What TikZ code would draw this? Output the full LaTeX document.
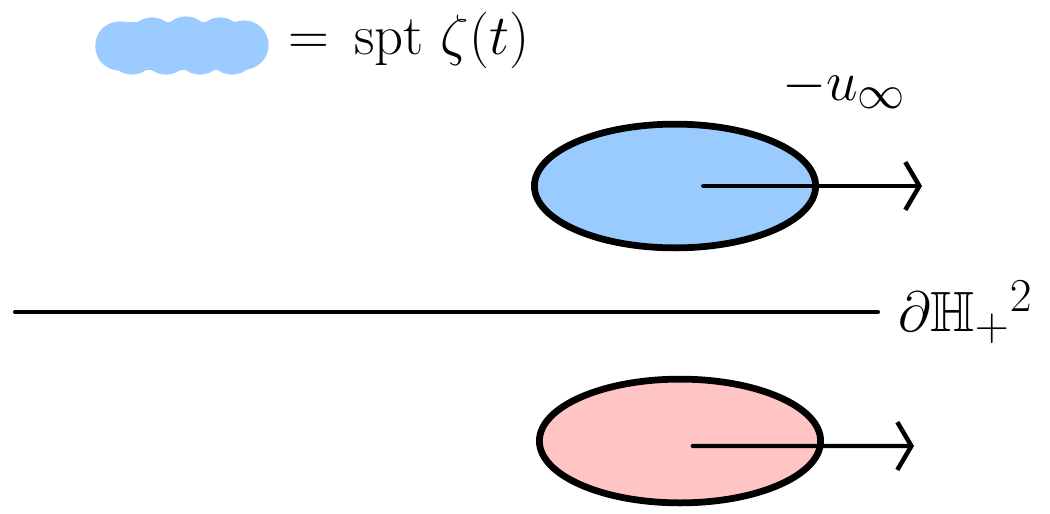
\documentclass[tikz,border=0pt]{standalone}
\usepackage{graphicx}
\usepackage{amssymb}
\usetikzlibrary{shapes.geometric,arrows.meta}
\definecolor{blobblue}{HTML}{9CCBFF}
\definecolor{diskblue}{HTML}{9ACBFF}
\definecolor{diskpink}{HTML}{FFC4C4}
\newcommand{\biglbl}[1]{\scalebox{1.62}{\fontsize{24.88}{30}\selectfont #1}}
\tikzset{
  disk/.style={ellipse, draw=black, line width=4.8pt, minimum width=200pt, minimum height=88pt, inner sep=0pt},
  vec/.style={line width=2.9pt, line cap=round, -{Straight Barb[length=10pt,width=34pt,line width=3.2pt]}},
  lbl/.style={inner sep=0pt},
  bound/.style={line width=2.9pt, line cap=round}
}
\begin{document}
\begin{tikzpicture}[x=0.025cm,y=-0.025cm]
\useasboundingbox (0,0) rectangle (1050,513);
% legend blob
\node[fill=blobblue, rounded corners=16pt, inner sep=0pt, minimum width=120pt, minimum height=34pt] (blob) at (180,46) {};
\foreach \cx/\cy in {120/46,152/42,186/41,220/42,244/45,132/50,166/50,200/50,232/50}
  \fill[blobblue] (\cx,\cy) circle[radius=17.5pt];
\node[lbl, anchor=west] (legend) at (288,40) {\biglbl{$=\,\mathrm{spt}\ \zeta(t)$}};
% top disk
\node[disk, fill=diskblue] (top) at (675,186) {};
\coordinate (topend) at (922,186);
\draw[vec] ([xshift=20pt]top.center) -- (topend);
\node[lbl, anchor=west] (uinf) at (782,88) {\biglbl{$-u_{\infty}$}};
% boundary line
\coordinate (lineL) at (15,312);
\coordinate (lineR) at (878,312);
\draw[bound] (lineL) -- (lineR);
\node[lbl, anchor=west] (bdry) at (898,312) {\biglbl{$\partial\mathbb{H}_{+}{}^{2}$}};
% bottom disk
\node[disk, fill=diskpink] (bot) at (680,441) {};
\coordinate (botend) at (914,446);
\draw[vec] ([xshift=9pt,yshift=-3.55pt]bot.center) -- (botend);
\end{tikzpicture}
\end{document}
